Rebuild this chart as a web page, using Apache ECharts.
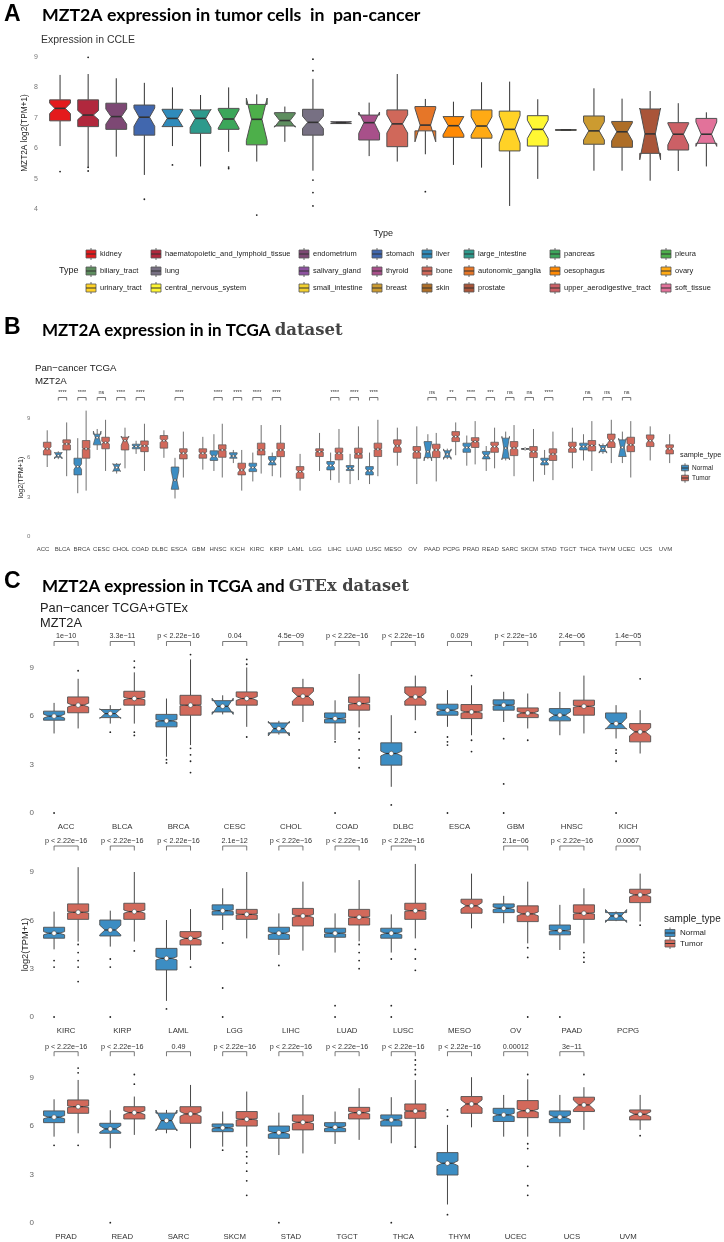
<!DOCTYPE html>
<html><head><meta charset="utf-8">
<script src="https://cdn.jsdelivr.net/npm/echarts/dist/echarts.min.js"></script>
<style>html,body{margin:0;padding:0;background:#fff}#c{width:724px;height:1242px}</style>
</head><body><div id="c"></div>
<script>
// ================= DATA =================
// Panel A: CCLE
const ccleTypes = ['kidney','haematopoietic_and_lymphoid_tissue','endometrium','stomach','liver','large_intestine','pancreas','pleura','biliary_tract','lung','salivary_gland','thyroid','bone','autonomic_ganglia','oesophagus','ovary','urinary_tract','central_nervous_system','small_intestine','breast','skin','prostate','upper_aerodigestive_tract','soft_tissue'];
const ccleColors = ['#E41A1C','#B1283D','#7D4874','#4167AE','#2F8BBB','#2E9A8C','#3CA65A','#4DAF4A','#5E8E5F','#777083','#8D529F','#A8508A','#D0685A','#E67628','#FF8A05','#FFAA14','#FFD226','#FFF733','#F2D02E','#CC9B30','#AE6E27','#A95539','#CC6066','#E2729A'];
// [lower whisker, Q1, median, Q3, upper whisker]
const ccleBoxes = [
 [6.07,6.90,7.31,7.59,8.41],[5.36,6.71,7.09,7.59,8.44],[5.72,6.62,7.04,7.48,8.30],[5.12,6.43,7.02,7.42,8.15],
 [6.07,6.71,6.98,7.28,8.00],[5.40,6.49,6.98,7.26,7.75],[5.88,6.62,6.96,7.31,8.00],[5.56,6.11,6.95,7.44,7.77],
 [6.21,6.73,6.91,7.17,7.37],[5.26,6.43,6.85,7.28,8.28],[6.80,6.81,6.84,6.87,6.88],[5.74,6.27,6.84,7.09,7.50],
 [5.56,6.05,6.80,7.26,8.44],[5.80,6.57,6.76,7.37,7.62],[5.45,6.36,6.74,7.04,7.53],[5.36,6.33,6.73,7.26,8.17],
 [4.10,5.91,6.62,7.22,8.19],[4.99,6.07,6.62,7.07,7.61],[6.59,6.59,6.60,6.61,6.61],[5.26,6.13,6.57,7.06,7.97],
 [5.26,6.03,6.54,6.88,7.63],[4.93,5.83,6.47,7.29,7.88],[5.25,5.94,6.46,6.84,7.48],[5.40,6.16,6.46,6.98,7.18]
];
const ccleNotch = [0.17,0.15,0.25,0.3,0.28,0.3,0.3,0.7,0.22,0.2,0.03,0.35,0.3,0.55,0.3,0.3,0.45,0.3,0,0.3,0.3,0.85,0.35,0.4];
const ccleOutliers = [[0,5.23],[1,8.99],[1,5.37],[1,5.25],[3,4.32],[4,5.45],[6,5.38],[6,5.33],[7,3.8],[9,8.93],[9,8.55],[9,4.95],[9,4.54],[9,4.10],[13,4.57]];

// Panels B & C: cancer types
const cancers = ['ACC','BLCA','BRCA','CESC','CHOL','COAD','DLBC','ESCA','GBM','HNSC','KICH','KIRC','KIRP','LAML','LGG','LIHC','LUAD','LUSC','MESO','OV','PAAD','PCPG','PRAD','READ','SARC','SKCM','STAD','TGCT','THCA','THYM','UCEC','UCS','UVM'];
const groups = ['Normal','Tumor'];
// Panel B (TCGA): [low, Q1, median, Q3, high, notch half-height]
const tcgaNormal = [null,[5.9,6.05,6.17,6.39,6.5,0.25],[3.3,4.7,5.33,5.97,7.5,0.2],[6.6,6.99,7.54,7.8,8.2,0.5],[4.8,5.0,5.26,5.51,5.6,0.3],[6.3,6.69,6.86,7.04,7.3,0.08],null,[2.9,3.6,4.3,5.3,6.0,0.7],null,[5.0,5.8,6.12,6.54,7.8,0.2],[5.6,5.97,6.14,6.39,6.6,0.15],[4.2,4.95,5.26,5.59,6.4,0.15],[4.6,5.46,5.72,6.1,6.4,0.2],null,null,[4.3,5.08,5.41,5.72,6.4,0.15],[4.0,5.03,5.2,5.41,6.3,0.1],[4.0,4.7,5.02,5.33,6.4,0.12],null,null,[5.9,6.02,6.47,7.24,7.8,0.7],[5.9,6.04,6.28,6.54,6.7,0.4],[5.4,6.42,6.79,7.12,7.7,0.15],[5.0,5.92,6.17,6.49,6.9,0.2],[5.8,5.97,6.74,7.5,8.0,0.9],[6.6,6.65,6.68,6.71,6.75,0.02],[4.7,5.46,5.72,5.97,6.6,0.15],null,[5.8,6.6,6.86,7.12,7.8,0.1],[6.3,6.47,6.71,6.94,7.1,0.35],[5.6,6.1,6.79,7.37,8.0,0.7],null,null];
const tcgaTumor = [[5.3,6.22,6.69,7.19,8.1,0.15],[4.6,6.6,7.06,7.37,8.7,0.08],[3.5,5.97,6.69,7.32,9.6,0.05],[5.0,6.69,7.16,7.57,8.9,0.1],[5.2,6.6,7.31,7.57,8.3,0.35],[5.0,6.47,6.91,7.29,8.6,0.08],[6.0,6.74,7.31,7.7,8.1,0.15],[4.5,5.92,6.35,6.69,8.0,0.1],[5.1,5.97,6.35,6.69,7.6,0.1],[4.5,6.04,6.6,6.99,8.6,0.06],[3.5,4.7,5.07,5.59,6.6,0.2],[4.8,6.22,6.6,7.12,8.5,0.06],[4.5,6.09,6.6,7.12,8.5,0.1],[3.5,4.44,4.95,5.33,6.3,0.15],[5.0,6.1,6.47,6.69,7.9,0.05],[4.1,5.85,6.35,6.74,8.2,0.08],[4.3,5.97,6.3,6.74,8.4,0.05],[4.6,6.1,6.66,7.12,8.9,0.06],[5.4,6.42,6.91,7.37,8.3,0.2],[4.0,5.97,6.47,6.86,8.4,0.1],[4.2,6.02,6.6,7.04,7.9,0.15],[6.2,7.24,7.62,8.0,8.7,0.1],[5.5,6.79,7.24,7.54,8.8,0.07],[5.2,6.42,6.86,7.19,8.3,0.12],[4.6,6.17,6.74,7.24,8.5,0.12],[4.2,6.02,6.47,6.86,8.2,0.08],[4.3,5.8,6.28,6.69,8.0,0.1],[5.2,6.42,6.79,7.19,8.3,0.12],[5.0,6.52,6.94,7.32,8.8,0.05],[5.6,6.79,7.31,7.81,8.9,0.2],[4.5,6.47,6.99,7.57,8.8,0.1],[5.8,6.86,7.31,7.75,8.4,0.2],[5.6,6.3,6.69,6.99,7.8,0.12]];
const tcgaSig = ['','****','****','ns','****','****','','****','','****','****','****','****','','','****','****','****','','','ns','**','****','***','ns','ns','****','','ns','ns','ns','',''];
// Panel C (TCGA + GTEx)
const gtexNormal = [[4.92,5.74,5.99,6.3,6.81,0.12],[5.53,5.9,6.15,6.4,6.67,0.3],[3.48,5.33,5.7,6.1,7.08,0.08],[6.1,6.25,6.6,6.95,7.28,0.5],[4.85,4.96,5.22,5.57,5.7,0.45],[4.51,5.57,5.84,6.19,6.97,0.05],[1.62,2.96,3.68,4.34,6.05,0.15],[5.33,6.05,6.36,6.73,7.6,0.1],[5.63,6.36,6.67,7.0,7.5,0.05],[4.81,5.7,6.05,6.46,7.49,0.2],[4.61,5.22,5.53,6.19,6.67,0.35],
 [4.2,4.89,5.2,5.57,6.54,0.1],[4.37,5.03,5.4,6.02,6.6,0.3],[1.0,2.92,3.64,4.26,6.02,0.1],[5.4,6.33,6.6,6.96,7.99,0.05],[3.85,4.82,5.2,5.57,6.43,0.1],[4.0,4.95,5.2,5.51,6.43,0.05],[4.0,4.89,5.2,5.51,6.37,0.1],null,[5.82,6.48,6.75,7.02,7.52,0.08],[4.16,5.1,5.36,5.71,6.96,0.05],[5.95,6.0,6.27,6.48,6.55,0.4],
 [5.34,6.21,6.55,6.94,7.66,0.1],[4.62,5.55,5.82,6.17,6.98,0.2],[5.55,5.8,6.34,6.8,7.0,0.65],[4.72,5.65,5.89,6.13,6.9,0.06],[4.2,5.24,5.59,6.0,6.83,0.1],[4.89,5.65,5.92,6.21,6.9,0.08],[4.93,6.0,6.38,6.69,7.79,0.08],[1.13,2.96,3.69,4.35,6.07,0.15],[5.34,6.28,6.69,7.1,7.93,0.1],[5.34,6.21,6.55,6.94,7.93,0.15],null];
const gtexTumor = [[5.23,6.2,6.67,7.18,8.3,0.12],[5.53,6.67,7.08,7.53,8.7,0.08],[4.2,6.05,6.67,7.28,9.5,0.04],[5.33,6.67,7.08,7.49,9.0,0.12],[5.63,6.67,7.22,7.75,8.3,0.3],[5.3,6.36,6.77,7.18,8.6,0.06],[5.74,6.67,7.18,7.8,8.5,0.25],[4.81,5.84,6.25,6.71,7.9,0.08],[5.23,5.9,6.19,6.5,7.39,0.1],[4.92,6.05,6.6,6.98,8.5,0.06],[3.68,4.4,5.02,5.53,6.36,0.25],
 [4.68,6.06,6.5,7.02,9.3,0.05],[4.68,6.06,6.54,7.06,9.0,0.1],[3.54,4.47,4.88,5.3,6.7,0.12],[4.88,6.06,6.37,6.68,9.0,0.04],[4.12,5.65,6.27,6.74,8.4,0.1],[4.7,5.71,6.19,6.68,8.5,0.05],[4.88,6.06,6.6,7.06,9.5,0.05],[5.5,6.44,6.9,7.31,8.9,0.2],[4.57,5.92,6.4,6.9,8.4,0.12],[4.57,6.06,6.44,6.96,7.99,0.05],[5.92,7.1,7.58,7.93,8.9,0.12],
 [5.55,6.79,7.2,7.62,8.86,0.05],[5.45,6.44,6.83,7.2,7.83,0.12],[4.62,6.17,6.75,7.2,8.55,0.15],[4.72,6.0,6.42,6.9,8.14,0.05],[4.3,5.76,6.23,6.69,7.93,0.08],[5.14,6.44,6.83,7.16,8.35,0.08],[4.72,6.48,6.93,7.37,8.86,0.05],[5.92,6.79,7.37,7.83,9.03,0.25],[5.34,6.52,6.95,7.58,8.9,0.1],[5.76,6.9,7.31,7.79,8.41,0.3],[5.76,6.38,6.73,7.0,7.93,0.15]];
const gtexP = ['1e\u221210','3.3e\u221211','p < 2.22e\u221216','0.04','4.5e\u221209','p < 2.22e\u221216','p < 2.22e\u221216','0.029','p < 2.22e\u221216','2.4e\u221206','1.4e\u221205',
 'p < 2.22e\u221216','p < 2.22e\u221216','p < 2.22e\u221216','2.1e\u221212','p < 2.22e\u221216','p < 2.22e\u221216','p < 2.22e\u221216','','2.1e\u221206','p < 2.22e\u221216','0.0067',
 'p < 2.22e\u221216','p < 2.22e\u221216','0.49','p < 2.22e\u221216','p < 2.22e\u221216','p < 2.22e\u221216','p < 2.22e\u221216','p < 2.22e\u221216','0.00012','3e\u221211',''];
// outliers: [cancer index, group (0 Normal, 1 Tumor), value]
const gtexOutliers = [[0,0,0],[0,1,8.8],[1,0,5.0],[1,1,9.4],[1,1,9.0],[1,1,5.0],[1,1,4.8],[2,0,3.3],[2,0,3.1],[2,1,4.0],[2,1,3.6],[2,1,3.2],[2,1,2.5],[2,1,9.8],[3,1,4.7],[3,1,9.5],[3,1,9.2],
 [5,0,0],[5,0,4.4],[5,1,5.0],[5,1,4.6],[5,1,3.9],[5,1,3.4],[5,1,2.8],[6,0,0.5],[6,1,5.0],[7,0,4.7],[7,0,4.4],[7,0,4.2],[7,0,0],[7,1,4.5],[7,1,3.8],[7,1,8.5],[8,0,4.6],[8,0,1.8],[8,0,0],[8,1,4.5],
 [10,0,3.9],[10,0,3.7],[10,0,3.2],[10,0,0],[10,1,8.3],
 [11,0,3.5],[11,0,3.1],[11,0,0],[11,1,4.5],[11,1,4.0],[11,1,3.5],[11,1,3.1],[11,1,2.2],[12,0,3.6],[12,0,3.1],[12,0,0],[12,1,4.1],[13,0,0.5],[13,1,3.1],[14,0,4.6],[14,0,1.8],[14,0,0],[15,0,3.2],
 [16,0,0.7],[16,0,0],[16,1,4.5],[16,1,4.0],[16,1,3.5],[16,1,3.0],[17,0,3.6],[17,0,0.7],[17,0,0],[17,1,4.2],[17,1,3.6],[17,1,2.9],[19,1,4.3],[19,1,3.7],[19,1,0],[20,0,0],[20,1,4.0],[20,1,3.7],[20,1,3.4],[21,1,5.7],
 [22,0,4.8],[22,1,9.6],[22,1,9.3],[22,1,4.8],[23,0,0],[23,1,9.2],[23,1,8.6],[25,0,4.5],[25,1,4.4],[25,1,4.1],[25,1,3.7],[25,1,3.2],[25,1,2.6],[25,1,1.7],[26,0,0],[28,0,0],[28,1,10.1],[28,1,9.8],[28,1,9.5],[28,1,9.2],[28,1,4.7],
 [29,0,7.0],[29,0,6.6],[29,0,0.5],[30,1,9.2],[30,1,4.9],[30,1,4.6],[30,1,3.5],[30,1,2.3],[30,1,1.7],[31,1,9.2],[32,1,5.4]];

// ================= STYLE / LAYOUT =================
const FONT = '"Liberation Sans", Arial, sans-serif';
const TITLE_FONT = 'Lato, "Open Sans", sans-serif';
const SERIF = '"DejaVu Serif", "Liberation Serif", serif';
const NORMAL_C = '#3C8DC3', TUMOR_C = '#D2695B', EDGE = '#505050';

const chart = echarts.init(document.getElementById('c'), null, {renderer: 'canvas'});

function boxRenderer(cfg) {
  return function (params, api) {
    const i = api.value(0);
    const band = api.size([1, 0])[0];
    const cx = api.coord([i, 0])[0] + cfg.offset * band;
    const hw = cfg.width * band / 2;
    const Y = v => api.coord([i, v])[1];
    const low = api.value(1), q1 = api.value(2), med = api.value(3), q3 = api.value(4), high = api.value(5), nt = api.value(6);
    const ind = hw * 0.5;
    const yHi = Y(med + nt), yLo = Y(med - nt), yM = Y(med), y1 = Y(q1), y3 = Y(q3);
    const fill = typeof cfg.fill === 'function' ? cfg.fill(params.dataIndex) : cfg.fill;
    const pts = [[cx - hw, y3], [cx - hw, yHi], [cx - hw + ind, yM], [cx - hw, yLo], [cx - hw, y1],
                 [cx + hw, y1], [cx + hw, yLo], [cx + hw - ind, yM], [cx + hw, yHi], [cx + hw, y3]];
    const ch = [
      {type: 'line', shape: {x1: cx, y1: y3, x2: cx, y2: Y(high)}, style: {stroke: '#333', lineWidth: cfg.lw}},
      {type: 'line', shape: {x1: cx, y1: y1, x2: cx, y2: Y(low)}, style: {stroke: '#333', lineWidth: cfg.lw}},
      {type: 'polygon', shape: {points: pts}, style: {fill: fill, stroke: EDGE, lineWidth: cfg.lw}},
      {type: 'line', shape: {x1: cx - hw + ind, y1: yM, x2: cx + hw - ind, y2: yM}, style: {stroke: '#333', lineWidth: cfg.medLw}}
    ];
    if (cfg.dotR) ch.push({type: 'circle', shape: {cx: cx, cy: yM, r: cfg.dotR}, style: {fill: '#fff', stroke: '#444', lineWidth: 0.6}});
    return {type: 'group', children: ch};
  };
}
function pointRenderer(offsets, r) {
  return function (params, api) {
    const i = api.value(0), g = api.value(1), v = api.value(2);
    const band = api.size([1, 0])[0];
    const p = api.coord([i, v]);
    return {type: 'circle', shape: {cx: p[0] + offsets[g] * band, cy: p[1], r: r}, style: {fill: '#222'}};
  };
}
function bracketRenderer(labels, off, cfg) {
  return function (params, api) {
    const i = api.value(0);
    const band = api.size([1, 0])[0];
    const p = api.coord([i, 9]);
    const xa = p[0] - off * band, xb = p[0] + off * band, yt = p[1] - cfg.gap;
    return {type: 'group', children: [
      {type: 'polyline', shape: {points: [[xa, yt + cfg.tick], [xa, yt], [xb, yt], [xb, yt + cfg.tick]]}, style: {stroke: '#555', lineWidth: 0.8, fill: null}},
      {type: 'text', x: p[0], y: yt - cfg.lg, style: {text: labels[params.dataIndex], fill: '#333', font: cfg.font, align: 'center', verticalAlign: 'middle'}}
    ]};
  };
}

// ---------- grids ----------
const grids = [
  {left: 46, top: 57, width: 674.4, height: 152},
  {left: 33.3, top: 418.5, width: 641.9, height: 118},
  {left: 38, top: 667.5, width: 618.2, height: 145.5},
  {left: 38, top: 872, width: 618.2, height: 145},
  {left: 38, top: 1077.7, width: 618.2, height: 145}
];
const rowCats = [0, 1, 2].map(r => cancers.slice(r * 11, r * 11 + 11));
const hidden = {axisLine: {show: false}, axisTick: {show: false}, splitLine: {show: false}};
const xAxes = [
  Object.assign({type: 'category', gridIndex: 0, data: ccleTypes, axisLabel: {show: false}, name: 'Type', nameLocation: 'middle', nameGap: 20, nameTextStyle: {fontFamily: FONT, fontSize: 9, color: '#222'}}, hidden),
  Object.assign({type: 'category', gridIndex: 1, data: cancers, axisLabel: {interval: 0, fontFamily: FONT, fontSize: 6, color: '#444', margin: 10}}, hidden)
];
rowCats.forEach((cats, r) => xAxes.push(Object.assign({type: 'category', gridIndex: r + 2, data: cats, axisLabel: {interval: 0, fontFamily: FONT, fontSize: 7.8, color: '#333', margin: 10}}, hidden)));
const yAxes = [
  Object.assign({type: 'value', gridIndex: 0, min: 4, max: 9, interval: 1, axisLabel: {fontFamily: FONT, fontSize: 7, color: '#777', margin: 8}, name: 'MZT2A log2(TPM+1)', nameLocation: 'middle', nameGap: 17, nameMoveOverlap: false, nameTextStyle: {fontFamily: FONT, fontSize: 8.3, color: '#222'}}, hidden),
  Object.assign({type: 'value', gridIndex: 1, min: 0, max: 9, interval: 3, axisLabel: {fontFamily: FONT, fontSize: 6, color: '#777', margin: 3}, name: 'log2(TPM+1)', nameLocation: 'middle', nameGap: 9, nameMoveOverlap: false, nameTextStyle: {fontFamily: FONT, fontSize: 7.2, color: '#222'}}, hidden)
];
for (let r = 0; r < 3; r++) yAxes.push(Object.assign({type: 'value', gridIndex: r + 2, min: 0, max: 9, interval: 3, axisLabel: {fontFamily: FONT, fontSize: 8, color: '#666', margin: 4},
  name: r === 1 ? 'log2(TPM+1)' : '', nameLocation: 'middle', nameGap: 8.5, nameMoveOverlap: false, nameTextStyle: {fontFamily: FONT, fontSize: 9.2, color: '#222'}}, hidden));

// ---------- series ----------
const series = [];
series.push({type: 'custom', xAxisIndex: 0, yAxisIndex: 0, renderItem: boxRenderer({offset: 0, width: 0.74, fill: i => ccleColors[i], lw: 1, medLw: 1.6}),
  data: ccleBoxes.map((b, i) => [i].concat(b, [ccleNotch[i]])), z: 3});
series.push({type: 'custom', xAxisIndex: 0, yAxisIndex: 0, renderItem: pointRenderer([0], 0.9), data: ccleOutliers.map(o => [o[0], 0, o[1]]), z: 2});

const OFFS_B = [-0.215, 0.215];
const bN = [], bT = [], bBr = [], bLab = [];
cancers.forEach((c, i) => {
  if (tcgaNormal[i]) bN.push([i].concat(tcgaNormal[i]));
  if (tcgaTumor[i]) bT.push([i].concat(tcgaTumor[i]));
  if (tcgaSig[i]) { bBr.push([i]); bLab.push(tcgaSig[i]); }
});
series.push({type: 'custom', xAxisIndex: 1, yAxisIndex: 1, renderItem: boxRenderer({offset: OFFS_B[0], width: 0.39, fill: NORMAL_C, lw: 0.7, medLw: 1, dotR: 1.2}), data: bN, z: 3});
series.push({type: 'custom', xAxisIndex: 1, yAxisIndex: 1, renderItem: boxRenderer({offset: OFFS_B[1], width: 0.39, fill: TUMOR_C, lw: 0.7, medLw: 1, dotR: 1.2}), data: bT, z: 3});
series.push({type: 'custom', xAxisIndex: 1, yAxisIndex: 1, renderItem: bracketRenderer(bLab, 0.215, {gap: 21, tick: 3, lg: 5.5, font: '5.5px ' + FONT}), data: bBr});

const OFFS_C = [-0.214, 0.214];
for (let r = 0; r < 3; r++) {
  const N = [], T = [], Br = [], Lab = [], Pts = [];
  for (let k = 0; k < 11; k++) {
    const i = r * 11 + k;
    if (gtexNormal[i]) N.push([k].concat(gtexNormal[i]));
    if (gtexTumor[i]) T.push([k].concat(gtexTumor[i]));
    if (gtexP[i]) { Br.push([k]); Lab.push(gtexP[i]); }
  }
  gtexOutliers.forEach(o => { if (o[0] >= r * 11 && o[0] < r * 11 + 11) Pts.push([o[0] - r * 11, o[1], o[2]]); });
  const ax = {xAxisIndex: r + 2, yAxisIndex: r + 2};
  series.push(Object.assign({type: 'custom', renderItem: pointRenderer(OFFS_C, 0.9), data: Pts, z: 2}, ax));
  series.push(Object.assign({type: 'custom', renderItem: boxRenderer({offset: OFFS_C[0], width: 0.375, fill: NORMAL_C, lw: 0.9, medLw: 1.2, dotR: 2.3}), data: N, z: 3}, ax));
  series.push(Object.assign({type: 'custom', renderItem: boxRenderer({offset: OFFS_C[1], width: 0.375, fill: TUMOR_C, lw: 0.9, medLw: 1.2, dotR: 2.3}), data: T, z: 3}, ax));
  series.push(Object.assign({type: 'custom', renderItem: bracketRenderer(Lab, 0.214, {gap: 26, tick: 4.5, lg: 5, font: '7.2px ' + FONT}), data: Br}, ax));
}

// ---------- text & legends ----------
const graphic = [];
function txt(x, y, text, font, fill, extra) {
  graphic.push(Object.assign({type: 'text', x: x, y: y, style: {text: text, font: font, fill: fill || '#111', verticalAlign: 'middle'}}, extra || {}));
}
function key(x, y, color, w, h) {
  graphic.push({type: 'line', shape: {x1: x, y1: y - h / 2 - 2, x2: x, y2: y + h / 2 + 2}, style: {stroke: '#444', lineWidth: 0.8}});
  graphic.push({type: 'rect', shape: {x: x - w / 2, y: y - h / 2, width: w, height: h}, style: {fill: color, stroke: '#555', lineWidth: 0.8}});
  graphic.push({type: 'line', shape: {x1: x - w / 2, y1: y, x2: x + w / 2, y2: y}, style: {stroke: '#333', lineWidth: 1}});
}
// Panel letters & titles
txt(4, 15, 'A', 'bold 23px ' + FONT, '#000');
graphic.push({type: 'text', x: 42, y: 15, style: {text: 'MZT2A expression in tumor cells  in  pan-cancer', font: 'bold 17.7px ' + TITLE_FONT, fill: '#000', verticalAlign: 'middle'}});
txt(41, 40, 'Expression in CCLE', '10.5px ' + FONT, '#333');
txt(4, 328, 'B', 'bold 23px ' + FONT, '#000');
graphic.push({type: 'text', x: 42, y: 331, style: {rich: {a: {font: 'bold 17px ' + TITLE_FONT, fill: '#000'}, b: {font: 'bold 16.5px ' + SERIF, fill: '#444'}}, text: '{a|MZT2A expression in in TCGA }{b|dataset}', verticalAlign: 'middle'}});
txt(35, 368, 'Pan\u2212cancer TCGA', '9.7px ' + FONT, '#222');
txt(35, 381, 'MZT2A', '9.7px ' + FONT, '#222');
txt(4, 582, 'C', 'bold 23px ' + FONT, '#000');
graphic.push({type: 'text', x: 42, y: 587, style: {rich: {a: {font: 'bold 17px ' + TITLE_FONT, fill: '#000'}, b: {font: 'bold 16.2px ' + SERIF, fill: '#444'}}, text: '{a|MZT2A expression in TCGA and }{b|GTEx dataset}', verticalAlign: 'middle'}});
txt(40, 608, 'Pan\u2212cancer TCGA+GTEx', '12.8px ' + FONT, '#222');
txt(40, 623, 'MZT2A', '12.8px ' + FONT, '#222');

// Panel A legend (8 columns x 3 rows)
const legColX = [91, 156, 304, 377, 427, 469, 555, 666];
const legRowY = [254, 271, 288];
txt(59, 271, 'Type', '9px ' + FONT, '#222');
ccleTypes.forEach((t, i) => {
  const cx = legColX[i % 8], cy = legRowY[Math.floor(i / 8)];
  key(cx, cy, ccleColors[i], 10, 8);
  txt(cx + 9, cy, t, '7.5px ' + FONT, '#222');
});
// Panel B legend
txt(680, 455, 'sample_type', '7.3px ' + FONT, '#222');
groups.forEach((g, k) => { key(685, 468 + k * 10, k ? TUMOR_C : NORMAL_C, 7, 5.5); txt(692, 468 + k * 10, g, '6.5px ' + FONT, '#222'); });
// Panel C legend
txt(664, 919, 'sample_type', '10px ' + FONT, '#222');
groups.forEach((g, k) => { key(670, 933 + k * 10.5, k ? TUMOR_C : NORMAL_C, 10, 7); txt(680, 933 + k * 10.5, g, '8px ' + FONT, '#222'); });

chart.setOption({
  backgroundColor: '#fff',
  animation: false,
  grid: grids,
  xAxis: xAxes,
  yAxis: yAxes,
  series: series,
  graphic: graphic
});
</script></body></html>
